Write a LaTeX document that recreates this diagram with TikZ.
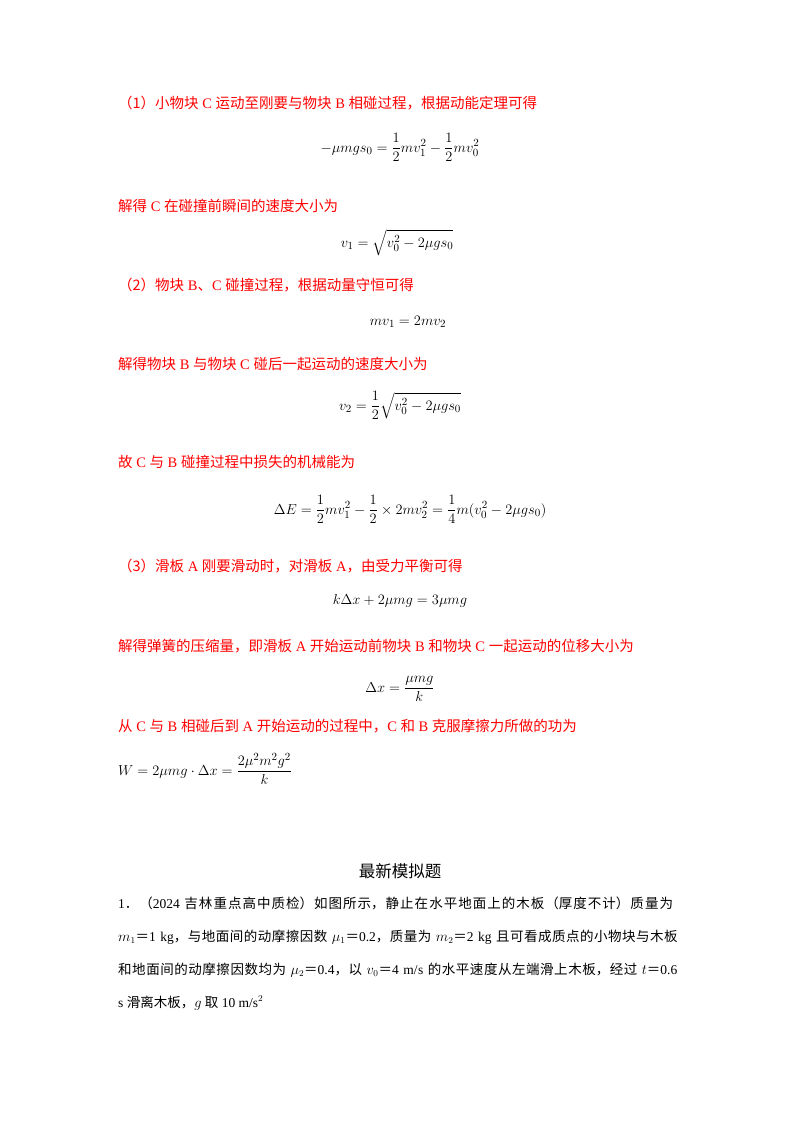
\documentclass[tikz,border=0pt]{standalone}
\usepackage{amsmath}
\usepackage{fontspec}
\setmainfont{Liberation Serif}
\newfontfamily\cjk{Noto Sans CJK SC}
\newcommand\zh[1]{{\cjk #1}}
\begin{document}
\XeTeXlinebreaklocale "zh"
\XeTeXlinebreakskip=0pt plus 3pt
\XeTeXlinebreakpenalty=10000
\begin{tikzpicture}[x=1pt,y=-1pt,
  rt/.style={anchor=base west,inner sep=0,text=red,font=\fontsize{14.5}{17}\selectfont},
  eq/.style={anchor=base,inner sep=0,font=\fontsize{15}{17}\selectfont},
  bt/.style={anchor=base west,inner sep=0,font=\fontsize{13.5}{16}\selectfont,text width=564pt,
    execute at begin node={\parfillskip=0pt\relax\hbadness=10000}},
]
\useasboundingbox (0,0) rectangle (800,1132);
\node[rt] (l1) at (118,108) {\zh{（1）小物块} C \zh{运动至刚要与物块} B \zh{相碰过程，根据动能定理可得}};
\node[eq] (e1) at (400,152) {$-\mu mgs_0=\dfrac12mv_1^2-\dfrac12mv_0^2$};
\node[rt] (l2) at (118,211) {\zh{解得} C \zh{在碰撞前瞬间的速度大小为}};
\node[eq] (e2) at (397,247) {$v_1=\sqrt{v_0^2-2\mu gs_0}$};
\node[rt] (l3) at (118,290) {\zh{（2）物块} B\zh{、}C \zh{碰撞过程，根据动量守恒可得}};
\node[eq] (e3) at (408,325) {$mv_1=2mv_2$};
\node[rt] (l4) at (118,369) {\zh{解得物块} B \zh{与物块} C \zh{碰后一起运动的速度大小为}};
\node[eq] (e4) at (400,410) {$v_2=\dfrac12\sqrt{v_0^2-2\mu gs_0}$};
\node[rt] (l5) at (118,467) {\zh{故} C \zh{与} B \zh{碰撞过程中损失的机械能为}};
\node[eq] (e5) at (410,514) {$\Delta E=\dfrac12mv_1^2-\dfrac12\times2mv_2^2=\dfrac14m(v_0^2-2\mu gs_0)$};
\node[rt] (l6) at (118,571) {\zh{（3）滑板} A \zh{刚要滑动时，对滑板} A\zh{，由受力平衡可得}};
\node[eq] (e6) at (400,604) {$k\Delta x+2\mu mg=3\mu mg$};
\node[rt] (l7) at (118,651) {\zh{解得弹簧的压缩量，即滑板} A \zh{开始运动前物块} B \zh{和物块} C \zh{一起运动的位移大小为}};
\node[eq] (e7) at (400,692) {$\Delta x=\dfrac{\mu mg}{k}$};
\node[rt] (l8) at (118,731) {\zh{从} C \zh{与} B \zh{相碰后到} A \zh{开始运动的过程中，}C \zh{和} B \zh{克服摩擦力所做的功为}};
\node[eq,anchor=base west] (e8) at (118,775) {$W=2\mu mg\cdot\Delta x=\dfrac{2\mu^2m^2g^2}{k}$};
\node[anchor=base,inner sep=0,font=\fontsize{16.5}{18}\selectfont] (t) at (400,877) {\zh{最新模拟题}};
\node[bt] (p1) at (118,908) {1\zh{．（}2024 \zh{吉林重点高中质检）如图所示，静止在水平地面上的木板（厚度不计）质量为}};
\node[bt] (p2) at (118,941) {$m_1$\zh{＝}1 kg\zh{，与地面间的动摩擦因数} $\mu_1$\zh{＝}0.2\zh{，质量为} $m_2$\zh{＝}2 kg \zh{且可看成质点的小物块与木板}};
\node[bt] (p3) at (118,974) {\zh{和地面间的动摩擦因数均为} $\mu_2$\zh{＝}0.4\zh{，以} $v_0$\zh{＝}4 m/s \zh{的水平速度从左端滑上木板，经过} $t$\zh{＝}0.6};
\node[anchor=base west,inner sep=0,font=\fontsize{13.5}{16}\selectfont] (p4) at (118,1007) {s \zh{滑离木板，}$g$ \zh{取} 10 m/s$^2$};
\end{tikzpicture}
\end{document}
